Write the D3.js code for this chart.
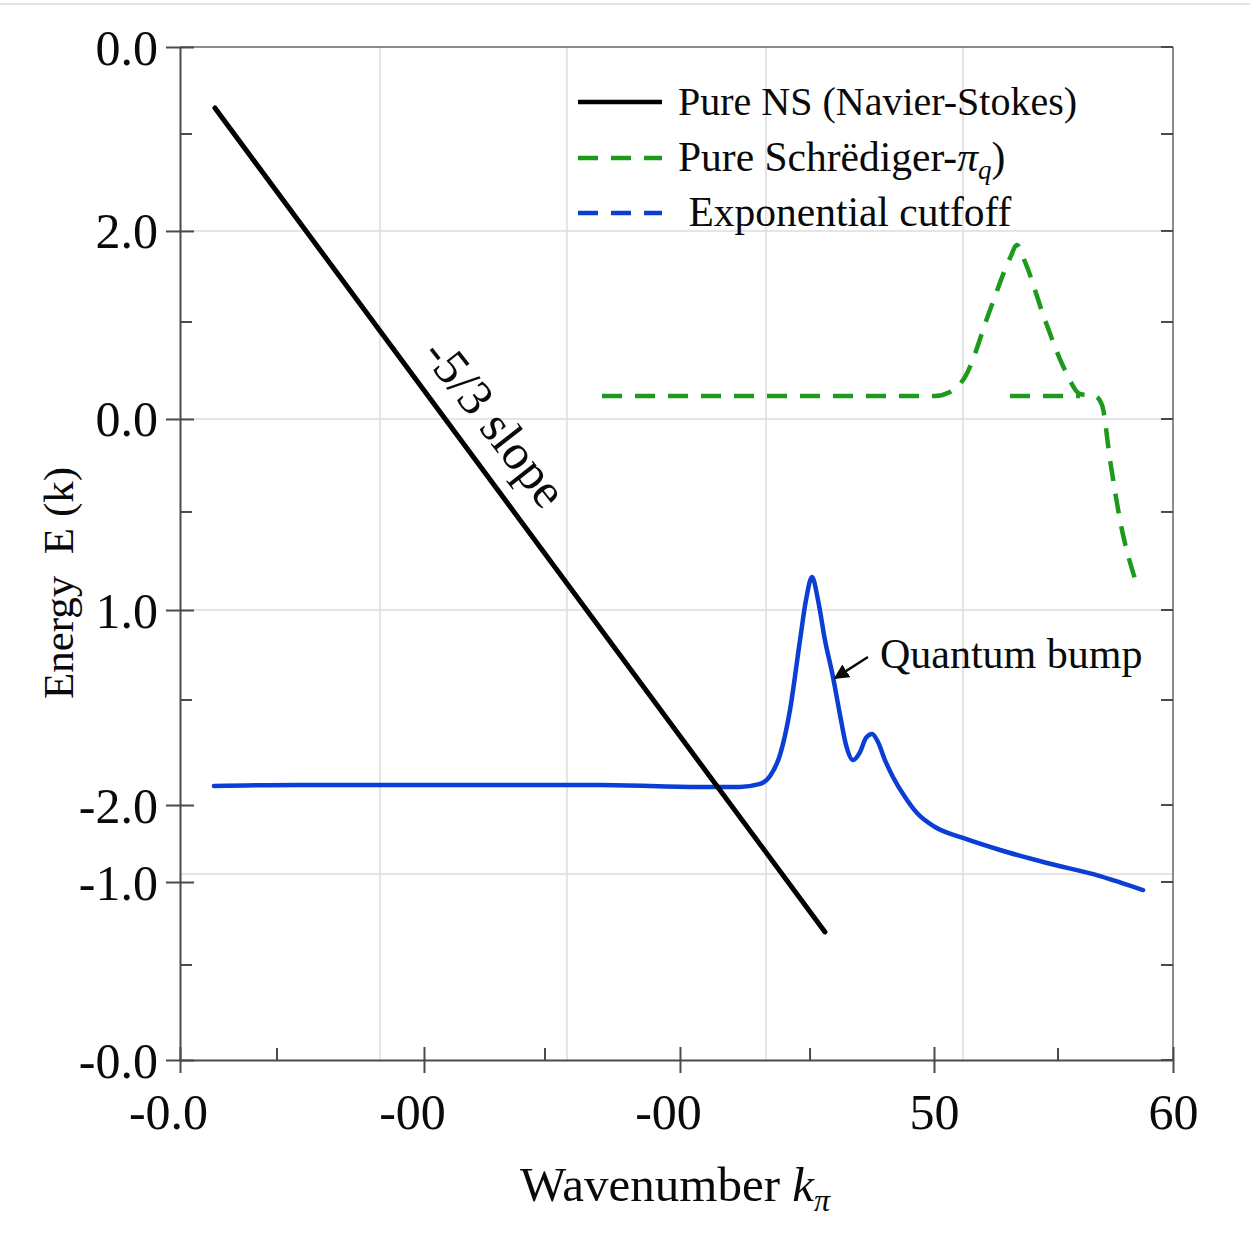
<!DOCTYPE html>
<html><head><meta charset="utf-8">
<script src="https://cdn.jsdelivr.net/npm/d3@7"></script>
<style>body{margin:0;background:#fff}svg{display:block}</style>
</head><body><svg id="c" width="1250" height="1249"></svg>
<script>
// ---- data (abstract plot units, 0..100 on both axes) ----
const xMajorTicks = [0, 24.57, 50.35, 75.93, 100];
const xMajorLabels = ["-0.0", "-00", "-00", "50", "60"];
const xMinorTicks = [9.77, 36.76, 63.45, 88.42];
const xGridLines = [20.14, 38.97, 59.01, 78.85];

const yMajorTicks = [100, 81.84, 63.28, 44.42, 25.17, 17.57, 0];
const yMajorLabels = ["0.0", "2.0", "0.0", "1.0", "-2.0", "-1.0", "-0.0"];
const yMinorTicks = [91.41, 72.85, 54.10, 35.54, 9.38];
const yGridLines = [81.84, 63.28, 44.42, 18.36];

const nsX = [3.52, 64.95];
const nsY = [93.98, 12.64];

const expX = [3.42, 12.08, 22.16, 32.23, 42.30, 52.37, 56.39, 58.41, 59.42, 60.42, 61.43, 62.44, 63.04, 63.65, 64.25, 64.95, 65.76, 66.47, 67.07, 67.77, 68.48, 69.08, 69.69, 70.29, 70.99, 71.80, 73.01, 74.22, 76.03, 78.85, 82.58, 87.31, 92.65, 96.98];
const expY = [27.05, 27.15, 27.15, 27.15, 27.15, 26.95, 26.95, 27.25, 28.04, 30.11, 34.55, 41.46, 45.41, 47.68, 45.41, 41.46, 37.81, 34.06, 31.10, 29.61, 30.40, 31.79, 32.18, 31.39, 29.61, 27.94, 25.96, 24.38, 23.00, 21.92, 20.73, 19.45, 18.16, 16.78];

const schX = [42.50, 52.37, 62.44, 76.03, 77.54, 79.05, 81.57, 83.59, 84.29, 85.10, 87.11, 89.12, 90.63, 92.15, 92.85, 93.66, 94.66, 96.37];
const schY = [65.55, 65.55, 65.55, 65.55, 65.94, 67.42, 74.04, 79.17, 80.45, 78.78, 73.05, 68.11, 65.75, 65.55, 64.66, 59.23, 53.31, 46.89];
const schBaseX = [83.59, 90.63];
const schBaseY = [65.55, 65.55];

const legendLabels = ["Pure NS (Navier-Stokes)", "Pure Schrëdiger-", " Exponential cutfoff"];

// ---- scales ----
const svg = d3.select("#c");
const x = d3.scaleLinear().domain([0, 100]).range([180, 1173]);
const y = d3.scaleLinear().domain([0, 100]).range([1060, 47]);
const serif = "'Liberation Serif','Times New Roman',serif";
const axisCol = "#4a4a4a";
const ink = "#0a0a0a";

svg.append("rect").attr("width", 1250).attr("height", 1249).attr("fill", "#fff");
svg.append("line").attr("x1", 0).attr("x2", 1250).attr("y1", 4).attr("y2", 4).attr("stroke", "#d8d8d8").attr("stroke-width", 1.5);

// grid
svg.append("g").selectAll("line").data(xGridLines).join("line")
  .attr("x1", d => x(d)).attr("x2", d => x(d)).attr("y1", y(100)).attr("y2", y(0))
  .attr("stroke", "#dcdcdc").attr("stroke-width", 1.5);
svg.append("g").selectAll("line").data(yGridLines).join("line")
  .attr("x1", x(0)).attr("x2", x(100)).attr("y1", d => y(d)).attr("y2", d => y(d))
  .attr("stroke", "#dcdcdc").attr("stroke-width", 1.5);

// frame top/right
svg.append("line").attr("x1", x(0)).attr("x2", x(100)).attr("y1", y(100)).attr("y2", y(100)).attr("stroke", "#666").attr("stroke-width", 1.5);
svg.append("line").attr("x1", x(100)).attr("x2", x(100)).attr("y1", y(100)).attr("y2", y(0)).attr("stroke", "#666").attr("stroke-width", 1.5);
// right inner ticks
svg.append("g").selectAll("line").data(yMajorTicks.concat(yMinorTicks)).join("line")
  .attr("x1", x(100)).attr("x2", x(100) - 12).attr("y1", d => y(d)).attr("y2", d => y(d))
  .attr("stroke", axisCol).attr("stroke-width", 2);

// left axis
const yAxis = d3.axisLeft(y).tickValues(yMajorTicks).tickFormat((d, i) => yMajorLabels[i]).tickSizeOuter(0);
const gy = svg.append("g").attr("transform", `translate(${x(0)},0)`).call(yAxis);
gy.select(".domain").attr("stroke", axisCol).attr("stroke-width", 2);
gy.selectAll(".tick line").attr("x1", 14).attr("x2", -14).attr("stroke", axisCol).attr("stroke-width", 2);
gy.selectAll(".tick text").attr("x", -22).attr("dy", "0.34em")
  .style("font-family", serif).style("font-size", "50px").attr("fill", ink);
svg.append("g").selectAll("line").data(yMinorTicks).join("line")
  .attr("x1", x(0)).attr("x2", x(0) + 12).attr("y1", d => y(d)).attr("y2", d => y(d))
  .attr("stroke", axisCol).attr("stroke-width", 2);

// bottom axis
const xAxis = d3.axisBottom(x).tickValues(xMajorTicks).tickFormat((d, i) => xMajorLabels[i]).tickSizeOuter(0);
const gx = svg.append("g").attr("transform", `translate(0,${y(0)})`).call(xAxis);
gx.select(".domain").attr("stroke", axisCol).attr("stroke-width", 2);
gx.selectAll(".tick line").attr("y1", -13).attr("y2", 13).attr("stroke", axisCol).attr("stroke-width", 2);
gx.selectAll(".tick text").attr("y", 33).attr("dy", "0.71em")
  .attr("dx", (d, i) => xMajorLabels[i].startsWith("-") ? -12 : 0)
  .style("font-family", serif).style("font-size", "50px").attr("fill", ink);
svg.append("g").selectAll("line").data(xMinorTicks).join("line")
  .attr("x1", d => x(d)).attr("x2", d => x(d)).attr("y1", y(0)).attr("y2", y(0) - 12)
  .attr("stroke", axisCol).attr("stroke-width", 2);

// axis titles
const xt = svg.append("text").attr("x", 675).attr("y", 1201).attr("text-anchor", "middle")
  .style("font-family", serif).style("font-size", "49px").attr("fill", ink);
xt.append("tspan").text("Wavenumber ");
xt.append("tspan").attr("font-style", "italic").text("k");
xt.append("tspan").attr("font-style", "italic").attr("font-size", "32px").attr("dy", 10).text("π");

svg.append("text").attr("transform", "translate(73,583) rotate(-90)").attr("text-anchor", "middle")
  .style("font-family", serif).style("font-size", "43px").attr("fill", ink)
  .attr("xml:space", "preserve").text("Energy  E (k)");

// series
const toPts = (xs, ys) => xs.map((v, i) => [v, ys[i]]);
const line = d3.line().x(d => x(d[0])).y(d => y(d[1]));
const smooth = d3.line().x(d => x(d[0])).y(d => y(d[1])).curve(d3.curveMonotoneX);

svg.append("path").attr("d", smooth(toPts(expX, expY))).attr("fill", "none")
  .attr("stroke", "#0a3ed4").attr("stroke-width", 4.5).attr("stroke-linejoin", "round").attr("stroke-linecap", "round");
svg.append("path").attr("d", smooth(toPts(schX, schY))).attr("fill", "none")
  .attr("stroke", "#1c9a1c").attr("stroke-width", 4.5).attr("stroke-dasharray", "20,13");
svg.append("path").attr("d", line(toPts(schBaseX, schBaseY))).attr("fill", "none")
  .attr("stroke", "#1c9a1c").attr("stroke-width", 4.5).attr("stroke-dasharray", "20,13");
svg.append("path").attr("d", line(toPts(nsX, nsY))).attr("fill", "none")
  .attr("stroke", "#000").attr("stroke-width", 5).attr("stroke-linecap", "round");

// slope annotation
const ang = Math.atan2(y(nsY[1]) - y(nsY[0]), x(nsX[1]) - x(nsX[0])) * 180 / Math.PI;
svg.append("text").attr("transform", `translate(${x(30.4)},${y(61.9)}) rotate(${ang - 1.5})`)
  .attr("text-anchor", "middle").style("font-family", serif).style("font-size", "50px")
  .attr("fill", ink).text("-5/3 slope");

// quantum bump annotation
svg.append("defs").append("marker").attr("id", "ah").attr("viewBox", "0 0 10 10")
  .attr("refX", 9).attr("refY", 5).attr("markerWidth", 6).attr("markerHeight", 6)
  .attr("orient", "auto").append("path").attr("d", "M0,0 L10,5 L0,10 z").attr("fill", ink);
svg.append("line").attr("x1", x(69.28)).attr("y1", y(39.78)).attr("x2", x(65.96)).attr("y2", y(37.70))
  .attr("stroke", ink).attr("stroke-width", 2.5).attr("marker-end", "url(#ah)");
svg.append("text").attr("x", x(70.49)).attr("y", y(38.7)).style("font-family", serif)
  .style("font-size", "42px").attr("fill", ink).text("Quantum bump");

// legend
const lg = svg.append("g");
const legCols = ["#000", "#1c9a1c", "#0a3ed4"];
const legDash = [null, "20,13", "20,13"];
const legY = [102, 158, 213];
legendLabels.forEach((t, i) => {
  lg.append("line").attr("x1", 578).attr("x2", 662).attr("y1", legY[i]).attr("y2", legY[i])
    .attr("stroke", legCols[i]).attr("stroke-width", 4.5).attr("stroke-dasharray", legDash[i]);
  const tx = lg.append("text").attr("x", 678).attr("y", legY[i] + 13).attr("xml:space", "preserve")
    .style("font-family", serif).style("font-size", i === 0 ? "40px" : "41.5px").attr("fill", ink);
  tx.append("tspan").text(t);
  if (i === 1) {
    tx.append("tspan").attr("font-style", "italic").text("π");
    tx.append("tspan").attr("font-style", "italic").attr("font-size", "27px").attr("dy", 8).text("q");
    tx.append("tspan").attr("dy", -8).text(")");
  }
});
</script></body></html>
